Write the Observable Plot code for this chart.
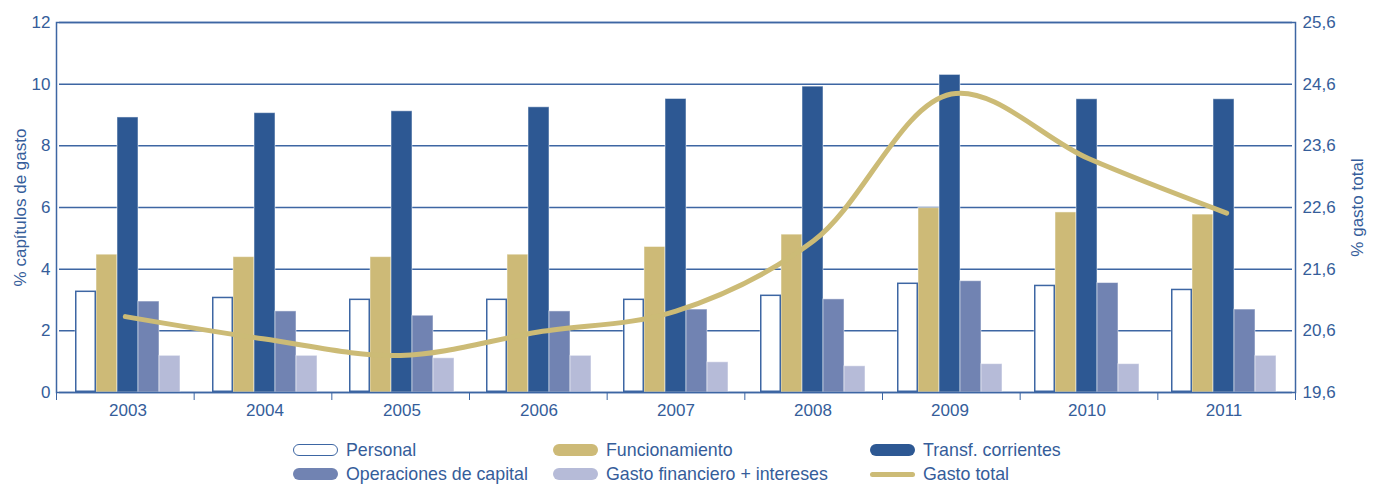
<!DOCTYPE html>
<html><head><meta charset="utf-8">
<script src="https://cdn.jsdelivr.net/npm/d3@7"></script>
<script src="https://cdn.jsdelivr.net/npm/@observablehq/plot@0.6"></script>
<style>
body{margin:0;background:#fff;font-family:"Liberation Sans",Arial,sans-serif;}
#wrap{position:relative;width:1375px;height:484px;overflow:hidden;}
#bars,#over{position:absolute;left:0;top:0;}
#legend{position:absolute;left:293px;top:438px;display:grid;grid-template-columns:260px 317px 300px;grid-auto-rows:24px;font-size:17.8px;line-height:20px;color:#355d9a;}
.item{display:flex;align-items:center;white-space:nowrap;}
.sw{width:45px;height:12px;border-radius:6px;margin-right:8px;box-sizing:border-box;flex:none;}
</style></head><body>
<div id="wrap"><div id="bars"></div><div id="over"></div><div id="legend"></div></div>
<script>
const years = ["2003","2004","2005","2006","2007","2008","2009","2010","2011"];
const categories = ["Personal","Funcionamiento","Transf. corrientes","Operaciones de capital","Gasto financiero + intereses"];
const personal       = [3.29,3.09,3.03,3.03,3.03,3.16,3.55,3.48,3.35];
const funcionamiento = [4.47,4.39,4.39,4.47,4.72,5.12,5.98,5.84,5.77];
const transfCorr     = [8.92,9.06,9.12,9.25,9.52,9.92,10.30,9.51,9.51];
const operCapital    = [2.95,2.63,2.49,2.63,2.69,3.02,3.61,3.55,2.69];
const gastoFinanc    = [1.19,1.19,1.11,1.19,0.98,0.85,0.92,0.92,1.19];
const gastoTotal     = [20.83,20.47,20.20,20.58,20.92,22.06,24.44,23.39,22.51];
const lineLabel = "Gasto total";
const leftTicks = [0,2,4,6,8,10,12];
const rightTicks = [19.6,20.6,21.6,22.6,23.6,24.6,25.6];
const leftTitle = "% capítulos de gasto";
const rightTitle = "% gasto total";

const colors = ["#ffffff","#cdba77","#2d5893","#7183b2","#b6bbd8"];
const lineColor = "#ccbb76";
const gridColor = "#3d66a3";
const textColor = "#355d9a";

const series = [personal, funcionamiento, transfCorr, operCapital, gastoFinanc];
const barData = years.flatMap((year, i) => categories.map((category, k) => ({year, category, value: series[k][i]})));
const lineData = years.map((year, i) => ({year, index: i, value: gastoTotal[i]}));

const W = 1375, H = 425, mt = 22, mb = 33, ml = 56, mr = 80;
const baseStyle = {fontFamily: '"Liberation Sans", Arial, sans-serif', fontSize: "17px", color: textColor, background: "transparent", overflow: "visible"};

const barsPlot = Plot.plot({
  width: W, height: H, marginTop: mt, marginBottom: mb, marginLeft: ml, marginRight: mr,
  style: baseStyle,
  facet: {data: barData, x: "year", marginTop: mt, marginBottom: mb, marginLeft: ml, marginRight: mr},
  fx: {domain: years, padding: 0, axis: "bottom", label: null, tickSize: 0, tickPadding: 11},
  x: {domain: categories, axis: null, paddingInner: 0, paddingOuter: 0.73},
  y: {domain: [0, 12], ticks: leftTicks, tickSize: 0, tickPadding: 9, label: null},
  color: {domain: categories, range: colors},
  marks: [
    Plot.ruleY(leftTicks, {stroke: gridColor, strokeWidth: 1.5}),
    Plot.barY(barData, {x: "category", y: "value", fill: "category", stroke: "#ffffff", strokeOpacity: 0.5, strokeWidth: 1}),
    Plot.barY(barData, {filter: d => d.category === "Personal", x: "category", y: "value", fill: "#ffffff", stroke: gridColor, strokeWidth: 1.5, inset: 0.75})
  ]
});
document.getElementById("bars").appendChild(barsPlot);

const overPlot = Plot.plot({
  width: W, height: H, marginTop: mt, marginBottom: mb, marginLeft: ml, marginRight: mr,
  style: Object.assign({}, baseStyle, {color: gridColor}),
  x: {domain: [0, years.length], ticks: d3.range(years.length + 1), tickSize: 8, tickFormat: () => "", label: null},
  y: {domain: [rightTicks[0], rightTicks[rightTicks.length - 1]], axis: "right", ticks: rightTicks, tickFormat: d => d.toFixed(1).replace(".", ","), tickSize: 0, tickPadding: 7, label: null},
  marks: [
    Plot.frame({stroke: gridColor, strokeWidth: 1.5}),
    Plot.line(lineData, {x: d => d.index + 0.5, y: "value", stroke: lineColor, strokeWidth: 5, curve: "catmull-rom", strokeLinecap: "round"}),
    Plot.text([leftTitle], {text: d => d, frameAnchor: "left", textAnchor: "middle", dx: -36, rotate: -90, fontSize: 17, fill: textColor}),
    Plot.text([rightTitle], {text: d => d, frameAnchor: "right", textAnchor: "middle", dx: 62, rotate: -90, fontSize: 17, fill: textColor})
  ]
});
overPlot.querySelectorAll("text").forEach(t => t.setAttribute("fill", textColor));
document.getElementById("over").appendChild(overPlot);

// legend
const legend = document.getElementById("legend");
const items = categories.map((c, k) => ({label: c, color: colors[k], kind: "bar"})).concat([{label: lineLabel, color: lineColor, kind: "line"}]);
items.forEach(it => {
  const div = document.createElement("div");
  div.className = "item";
  const sw = document.createElement("span");
  sw.className = "sw";
  if (it.kind === "line") {
    sw.style.height = "5px"; sw.style.borderRadius = "3px"; sw.style.background = it.color;
  } else if (it.color === "#ffffff") {
    sw.style.background = "#fff"; sw.style.border = "1.5px solid " + gridColor;
  } else {
    sw.style.background = it.color;
  }
  div.appendChild(sw);
  const tx = document.createElement("span");
  tx.textContent = it.label;
  div.appendChild(tx);
  legend.appendChild(div);
});
</script>
</body></html>
